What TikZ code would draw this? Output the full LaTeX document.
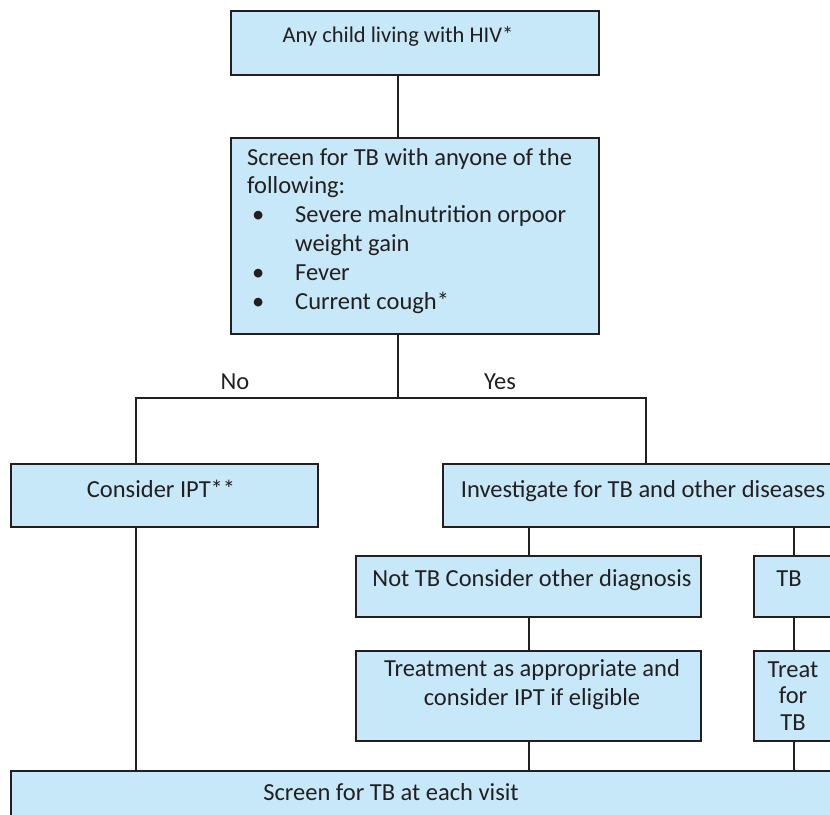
\documentclass[tikz,border=0pt]{standalone}
\usepackage{fontspec}
\setmainfont{Carlito}
\definecolor{boxfill}{HTML}{C6E8F8}
\definecolor{linec}{HTML}{231F20}
\newcommand{\flowfont}{\fontsize{24.5}{28.8}\selectfont}
\newcommand{\headfont}{\fontsize{22.5}{26}\selectfont}

\begin{document}
\begin{tikzpicture}[x=1pt, y=-1pt, font=\flowfont, text=linec,
    box/.style={draw=linec, fill=boxfill, line width=2.2pt, anchor=north west, inner sep=0pt},
    txt/.style={inner sep=0pt, anchor=base},
    link/.style={draw=linec, line width=1.8pt}]
    \clip (0,0) rectangle (830,814);

    \node[box, minimum width=368pt, minimum height=64pt,
      label={[txt, font=\headfont, xshift=168pt, yshift=-32pt]north west:Any child living with HIV*}] (Child) at (230,10) {};
    \node[box, minimum width=368pt, minimum height=196pt,
      label={[txt, anchor=base west, align=left, xshift=17pt, yshift=-172pt]north west:Screen for TB with anyone of the\\following:\\
        \hspace*{5pt}\makebox[43pt][l]{\textbullet}Severe malnutrition orpoor\\
        \hspace*{48pt}weight gain\\
        \hspace*{5pt}\makebox[43pt][l]{\textbullet}Fever\\
        \hspace*{5pt}\makebox[43pt][l]{\textbullet}Current cough*}] (Screen) at (230,137) {};
    \node[box, minimum width=307pt, minimum height=63pt,
      label={[txt, xshift=151pt, yshift=-34pt]north west:Consider IPT**}] (IPT) at (10,463) {};
    \node[box, minimum width=406pt, minimum height=63pt,
      label={[txt, xshift=201pt, yshift=-34pt]north west:Investigate for TB and other diseases}] (Invest) at (442,463) {};
    \node[box, minimum width=345pt, minimum height=61pt,
      label={[txt, xshift=177pt, yshift=-31pt]north west:Not TB Consider other diagnosis}] (NotTB) at (355,555) {};
    \node[box, minimum width=80pt, minimum height=61pt,
      label={[txt, xshift=36pt, yshift=-31pt]north west:TB}] (TB) at (753,555) {};
    \node[box, minimum width=345pt, minimum height=90pt,
      label={[txt, align=center, xshift=177pt, yshift=-55pt]north west:Treatment as appropriate and\\consider IPT if eligible}] (Treatment) at (355,650) {};
    \node[box, minimum width=80pt, minimum height=90pt,
      label={[txt, align=center, xshift=40pt, yshift=-80pt]north west:Treat\\[-2.3pt]for\\[-2.3pt]TB}] (Treat) at (753,650) {};
    \node[box, minimum width=900pt, minimum height=60pt,
      label={[txt, xshift=381pt, yshift=-30pt]north west:Screen for TB at each visit}] (Visit) at (10,770) {};

    \node[txt] (No) at (235,389) {No};
    \node[txt] (Yes) at (500,389) {Yes};

    \coordinate (trunk) at (398,0);
    \coordinate (noline) at (136,0);
    \coordinate (fork) at (398,398);

    \draw[link] (Child.south -| trunk) -- (Screen.north -| trunk);
    \draw[link] (Screen.south -| trunk) -- (fork);
    \draw[link] (IPT.north -| noline) |- (fork) -| (Invest.north);
    \draw[link] (IPT.south -| noline) -- (Visit.north -| noline);
    \draw[link] (Invest.south -| NotTB.north) -- (NotTB.north);
    \draw[link] (Invest.south -| TB.north) -- (TB.north);
    \draw[link] (NotTB.south) -- (Treatment.north);
    \draw[link] (TB.south) -- (Treat.north);
    \draw[link] (Treatment.south) -- (Visit.north -| Treatment.south);
    \draw[link] (Treat.south) -- (Visit.north -| Treat.south);
  \end{tikzpicture}
\end{document}
